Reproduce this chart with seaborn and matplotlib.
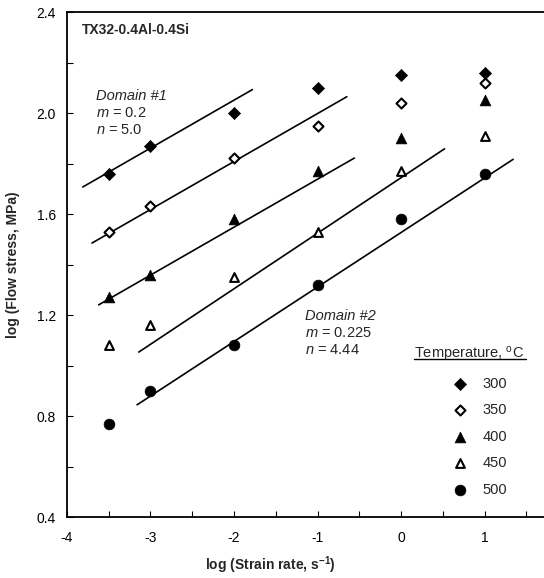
import numpy as np
import pandas as pd
import matplotlib
matplotlib.use("Agg")
import matplotlib.pyplot as plt
import seaborn as sns

# ---- data ----
strain_rate = [-3.5, -3, -2, -1, 0, 1]
temps = ["300", "350", "400", "450", "500"]
stress_300 = [1.76, 1.87, 2.00, 2.10, 2.15, 2.16]
stress_350 = [1.53, 1.63, 1.82, 1.95, 2.04, 2.12]
stress_400 = [1.27, 1.36, 1.58, 1.77, 1.90, 2.05]
stress_450 = [1.08, 1.16, 1.35, 1.53, 1.77, 1.91]
stress_500 = [0.77, 0.90, 1.08, 1.32, 1.58, 1.76]

# fitted lines (slope, intercept at x=0, x-range)
fit_slope = [0.19, 0.19, 0.19, 0.22, 0.216]
fit_intercept = [2.431, 2.188, 1.928, 1.744, 1.527]
fit_x_start = [-3.81, -3.70, -3.62, -3.14, -3.16]
fit_x_end = [-1.78, -0.65, -0.56, 0.52, 1.34]

x_ticks = [-4, -3, -2, -1, 0, 1]
y_ticks = [0.4, 0.8, 1.2, 1.6, 2.0, 2.4]

rows = []
for t, vals in zip(temps, [stress_300, stress_350, stress_400, stress_450, stress_500]):
    for x, y in zip(strain_rate, vals):
        rows.append({"rate": x, "stress": y, "T": t})
df = pd.DataFrame(rows)

sns.set_theme(style="white")
plt.rcParams['font.family'] = ['Liberation Sans', 'DejaVu Sans']
plt.rcParams['mathtext.fontset'] = 'custom'
plt.rcParams['mathtext.rm'] = 'Liberation Sans'
plt.rcParams['mathtext.it'] = 'Liberation Sans:italic'
plt.rcParams['mathtext.bf'] = 'Liberation Sans:bold'

fig = plt.figure(figsize=(5.44, 5.78), dpi=100)
ax = fig.add_axes([0.123, 0.1055, 0.877, 0.8737])

markers = {"300": "D", "350": "D", "400": "^", "450": "^", "500": "o"}
sizes = {"300": 38, "350": 26, "400": 60, "450": 40, "500": 60}
filled = {"300": True, "350": False, "400": True, "450": False, "500": True}

for t in temps:
    sub = df[df["T"] == t]
    if filled[t]:
        sns.scatterplot(data=sub, x="rate", y="stress", marker=markers[t], s=sizes[t],
                        color="black", edgecolor="black", linewidth=0.5, ax=ax, zorder=3)
    else:
        sns.scatterplot(data=sub, x="rate", y="stress", marker=markers[t], s=sizes[t],
                        facecolor="white", edgecolor="black", linewidth=1.5, ax=ax, zorder=3)

for sl, b, x0, x1 in zip(fit_slope, fit_intercept, fit_x_start, fit_x_end):
    xs = np.array([x0, x1])
    sns.lineplot(x=xs, y=b + sl * xs, color="black", linewidth=1.2, ax=ax, zorder=2)

ax.set_xlim(-4, 1.71)
ax.set_ylim(0.4, 2.4)
ax.set_xticks(x_ticks)
ax.set_xticklabels([str(v) for v in x_ticks])
ax.set_yticks(y_ticks)
ax.set_yticklabels([f"{v:.1f}" for v in y_ticks])
ax.set_xticks(np.arange(-3.5, 1.6, 1.0), minor=True)
ax.set_yticks(np.arange(0.6, 2.4, 0.4), minor=True)
ax.tick_params(axis="both", which="both", direction="in", length=4, width=0.8,
               labelsize=10, colors="black", left=True, bottom=True)
ax.tick_params(axis="x", pad=10)
ax.tick_params(axis="y", pad=8)
for s in ["left", "bottom", "top"]:
    ax.spines[s].set_color("black")
    ax.spines[s].set_linewidth(1.3)
ax.spines["right"].set_visible(False)

ax.set_xlabel("log (Strain rate, s$^{\\mathbf{-1}}$)", fontsize=10, fontweight="bold")
ax.set_ylabel("log (Flow stress, MPa)", fontsize=10, fontweight="bold")
ax.xaxis.set_label_coords(0.426, -0.074)
ax.yaxis.set_label_coords(-0.098, 0.5)

ax.text(-3.82, 2.33, "TX32-0.4Al-0.4Si", fontsize=10, fontweight="bold", va="center")
ax.text(-3.65, 2.067, "Domain #1", fontsize=10.5, style="italic", va="center")
ax.text(-3.65, 2.0, "$m$ = 0.2", fontsize=10.5, va="center")
ax.text(-3.65, 1.933, "$n$ = 5.0", fontsize=10.5, va="center")
ax.text(-1.15, 1.196, "Domain #2", fontsize=10.5, style="italic", va="center")
ax.text(-1.15, 1.129, "$m$ = 0.225", fontsize=10.5, va="center")
ax.text(-1.15, 1.061, "$n$ = 4.44", fontsize=10.5, va="center")

# legend
ax.text(0.16, 1.042, "Temperature, $^{\\mathrm{o}}$C", fontsize=10.5, va="center")
ax.plot([0.16, 1.49], [1.024, 1.024], color="black", linewidth=1.0)
leg_y = [0.927, 0.824, 0.717, 0.614, 0.507]
for t, yy in zip(temps, leg_y):
    if filled[t]:
        ax.scatter([0.70], [yy], marker=markers[t], s=sizes[t], color="black", edgecolor="black", linewidth=0.5, zorder=3)
    else:
        ax.scatter([0.70], [yy], marker=markers[t], s=sizes[t], facecolor="white", edgecolor="black", linewidth=1.5, zorder=3)
    ax.text(0.97, yy, t, fontsize=10.5, va="center")

fig.savefig("out.png", dpi=100)
